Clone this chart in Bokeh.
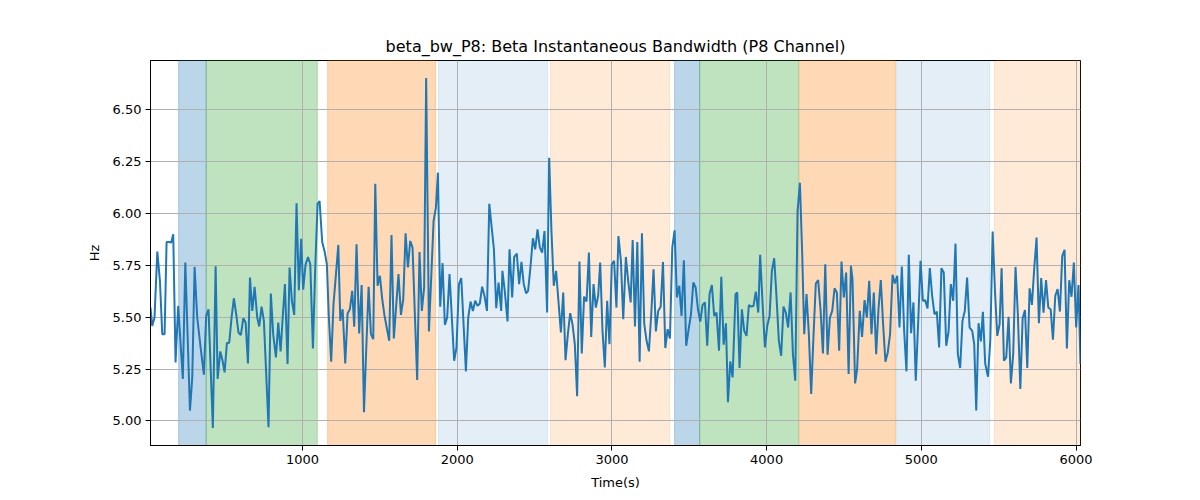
import numpy as np
from bokeh.plotting import figure
from bokeh.models import Range1d, BoxAnnotation, FixedTicker, PrintfTickFormatter
from bokeh.embed import file_html
from bokeh.resources import INLINE

time_s = [17, 28, 43, 61, 78, 93, 108, 121, 136, 151, 164, 179, 196, 226, 242, 272, 287, 302, 319, 341,
          362, 377, 392, 420, 438, 451, 468, 483, 496, 511, 526, 541, 556, 571, 586, 601, 617, 632, 647, 660,
          675, 690, 707, 720, 735, 750, 780, 795, 810, 828, 843, 858, 873, 886, 903, 916, 931, 946, 961, 976,
          991, 1004, 1019, 1035, 1050, 1067, 1082, 1097, 1110, 1127, 1144, 1157, 1170, 1185, 1200, 1216, 1231, 1244, 1259, 1276,
          1291, 1306, 1321, 1334, 1349, 1366, 1382, 1397, 1412, 1427, 1442, 1457, 1470, 1485, 1500, 1515, 1530, 1560, 1575, 1590,
          1620, 1636, 1651, 1666, 1681, 1696, 1711, 1726, 1741, 1756, 1771, 1786, 1799, 1817, 1847, 1862, 1875, 1890, 1905, 1920,
          1935, 1950, 1980, 1995, 2011, 2026, 2056, 2071, 2086, 2101, 2116, 2131, 2146, 2161, 2176, 2192, 2207, 2237, 2252, 2267,
          2284, 2292, 2307, 2325, 2338, 2355, 2368, 2385, 2400, 2415, 2430, 2445, 2458, 2473, 2489, 2504, 2519, 2534, 2549, 2564,
          2581, 2594, 2609, 2624, 2639, 2654, 2670, 2685, 2700, 2715, 2730, 2745, 2760, 2775, 2790, 2805, 2820, 2836, 2851, 2866,
          2881, 2896, 2911, 2924, 2939, 2954, 2969, 2984, 2999, 3014, 3029, 3042, 3058, 3073, 3090, 3105, 3121, 3134, 3149, 3164,
          3179, 3194, 3209, 3224, 3239, 3254, 3269, 3284, 3299, 3315, 3330, 3345, 3360, 3375, 3390, 3405, 3420, 3435, 3450, 3465,
          3480, 3496, 3511, 3526, 3541, 3556, 3571, 3586, 3601, 3616, 3631, 3646, 3661, 3676, 3692, 3707, 3722, 3737, 3750, 3765,
          3780, 3799, 3810, 3825, 3840, 3855, 3870, 3885, 3900, 3915, 3930, 3946, 3958, 3974, 3989, 4004, 4019, 4034, 4049, 4064,
          4079, 4094, 4109, 4124, 4139, 4155, 4170, 4185, 4200, 4215, 4230, 4243, 4258, 4273, 4288, 4303, 4318, 4333, 4349, 4364,
          4379, 4394, 4409, 4424, 4439, 4454, 4469, 4484, 4499, 4514, 4530, 4545, 4555, 4572, 4585, 4602, 4617, 4633, 4648, 4663,
          4678, 4693, 4708, 4723, 4738, 4753, 4768, 4783, 4798, 4814, 4829, 4844, 4859, 4874, 4889, 4904, 4919, 4934, 4949, 4964,
          4980, 4995, 5010, 5025, 5040, 5055, 5070, 5085, 5100, 5115, 5130, 5145, 5161, 5176, 5191, 5206, 5221, 5236, 5251, 5266,
          5281, 5296, 5312, 5329, 5342, 5355, 5370, 5385, 5398, 5413, 5431, 5446, 5461, 5476, 5491, 5506, 5519, 5534, 5549, 5564,
          5579, 5594, 5609, 5624, 5640, 5655, 5670, 5685, 5700, 5715, 5730, 5745, 5760, 5775, 5790, 5806, 5821, 5836, 5851, 5866,
          5881, 5896, 5911, 5926, 5941, 5956, 5971, 5986, 6001, 6016, 6029]

beta_bw_hz = [5.546, 5.458, 5.498, 5.816, 5.675, 5.418, 5.418, 5.862, 5.862, 5.859, 5.899, 5.282, 5.554, 5.202, 5.763, 5.050, 5.210, 5.742, 5.498, 5.354,
              5.223, 5.506, 5.538, 4.966, 5.745, 5.202, 5.335, 5.290, 5.234, 5.375, 5.377, 5.498, 5.591, 5.514, 5.426, 5.413, 5.495, 5.474, 5.277, 5.691,
              5.530, 5.646, 5.498, 5.455, 5.551, 5.482, 4.970, 5.614, 5.418, 5.306, 5.474, 5.335, 5.514, 5.659, 5.274, 5.739, 5.579, 5.511, 6.048, 5.630,
              5.878, 5.633, 5.752, 5.790, 5.755, 5.349, 5.739, 6.046, 6.059, 5.862, 5.811, 5.755, 5.498, 5.285, 5.562, 5.707, 5.848, 5.482, 5.538, 5.277,
              5.518, 5.538, 5.627, 5.454, 5.851, 5.421, 5.655, 5.042, 5.354, 5.646, 5.418, 5.394, 6.143, 5.651, 5.699, 5.587, 5.506, 5.386, 5.896, 5.397,
              5.707, 5.511, 5.587, 5.904, 5.739, 5.867, 5.835, 5.514, 5.197, 5.814, 5.530, 5.643, 6.652, 5.431, 5.963, 6.027, 6.196, 5.550, 5.760, 5.463,
              5.498, 5.707, 5.290, 5.354, 5.659, 5.688, 5.239, 5.498, 5.575, 5.530, 5.579, 5.554, 5.566, 5.647, 5.603, 5.530, 6.046, 5.827, 5.543, 5.667,
              5.530, 5.723, 5.627, 5.479, 5.827, 5.595, 5.790, 5.806, 5.659, 5.766, 5.659, 5.615, 5.627, 5.739, 5.880, 5.827, 5.923, 5.835, 5.811, 5.915,
              5.522, 6.268, 5.915, 5.651, 5.723, 5.579, 5.426, 5.619, 5.293, 5.418, 5.519, 5.466, 5.370, 5.119, 5.768, 5.325, 5.599, 5.575, 5.811, 5.405,
              5.659, 5.546, 5.603, 5.763, 5.434, 5.258, 5.579, 5.370, 5.755, 5.771, 5.546, 5.891, 5.771, 5.490, 5.790, 5.675, 5.571, 5.872, 5.455, 5.862,
              5.285, 5.904, 5.466, 5.386, 5.335, 5.514, 5.731, 5.431, 5.530, 5.550, 5.766, 5.351, 5.442, 5.397, 5.835, 5.918, 5.595, 5.651, 5.506, 5.774,
              5.362, 5.442, 5.514, 5.667, 5.643, 5.538, 5.479, 5.559, 5.571, 5.362, 5.611, 5.655, 5.506, 5.522, 5.338, 5.694, 5.367, 5.470, 5.090, 5.287,
              5.210, 5.611, 5.619, 5.255, 5.538, 5.434, 5.410, 5.558, 5.551, 5.554, 5.623, 5.522, 5.800, 5.562, 5.354, 5.458, 5.506, 5.723, 5.784, 5.595,
              5.386, 5.314, 5.551, 5.522, 5.450, 5.619, 5.322, 5.194, 6.011, 6.147, 5.803, 5.418, 5.611, 5.418, 5.130, 5.410, 5.662, 5.678, 5.530, 5.325,
              5.755, 5.319, 5.498, 5.530, 5.639, 5.619, 5.338, 5.768, 5.595, 5.715, 5.226, 5.747, 5.683, 5.181, 5.250, 5.530, 5.405, 5.582, 5.498, 5.675,
              5.418, 5.619, 5.322, 5.538, 5.679, 5.466, 5.285, 5.330, 5.418, 5.704, 5.662, 5.699, 5.450, 5.744, 5.434, 5.239, 5.800, 5.423, 5.571, 5.194,
              5.482, 5.771, 5.579, 5.582, 5.542, 5.736, 5.603, 5.514, 5.527, 5.354, 5.736, 5.715, 5.362, 5.431, 5.659, 5.579, 5.854, 5.322, 5.255, 5.482,
              5.530, 5.691, 5.450, 5.434, 5.370, 5.050, 5.471, 5.383, 5.526, 5.277, 5.213, 5.389, 5.912, 5.627, 5.410, 5.466, 5.736, 5.290, 5.306, 5.502,
              5.181, 5.322, 5.742, 5.514, 5.154, 5.495, 5.534, 5.255, 5.639, 5.559, 5.736, 5.883, 5.471, 5.688, 5.522, 5.679, 5.546, 5.538, 5.391, 5.603,
              5.635, 5.527, 5.795, 5.824, 5.349, 5.678, 5.598, 5.763, 5.450, 5.655, 5.274]

span_start = [199, 377, 1162, 1879, 2603, 3405, 3567, 4212, 4840, 5473]
span_end = [377, 1095, 1860, 2584, 3373, 3567, 4206, 4833, 5441, 6029]
span_state = ["s1", "s2", "s3", "s4", "s5", "s1", "s2", "s3", "s4", "s5"]

x_ticks = [1000, 2000, 3000, 4000, 5000, 6000]
y_ticks = [5.0, 5.25, 5.5, 5.75, 6.0, 6.25, 6.5]

state_fill = {"s1": ("#1f77b4", 0.3), "s2": ("#2ca02c", 0.3), "s3": ("#ff7f0e", 0.3),
              "s4": ("#1f77b4", 0.12), "s5": ("#ff7f0e", 0.16)}

ymin, ymax = min(beta_bw_hz), max(beta_bw_hz)
pad = 0.05 * (ymax - ymin)

FONT = "DejaVu Sans"
p = figure(width=1200, height=500, output_backend="svg", toolbar_location=None,
           x_range=Range1d(time_s[0], time_s[-1]), y_range=Range1d(ymin - pad, ymax + pad),
           min_border_left=150, min_border_right=120, min_border_top=60, min_border_bottom=55,
           title="beta_bw_P8: Beta Instantaneous Bandwidth (P8 Channel)")
p.background_fill_color = "white"
p.border_fill_color = "white"
p.outline_line_color = "black"
p.outline_line_width = 1

p.title.align = "center"
p.title.text_font = FONT
p.title.text_font_size = "16px"
p.title.text_font_style = "normal"
p.title.text_color = "black"

for s, e, st in zip(span_start, span_end, span_state):
    c, a = state_fill[st]
    p.add_layout(BoxAnnotation(left=s, right=e, fill_color=c, fill_alpha=a,
                               line_color=c, line_alpha=a, line_width=1, level="image"))

p.line(time_s, beta_bw_hz, line_color="#1f77b4", line_width=2)

p.xaxis.ticker = FixedTicker(ticks=x_ticks)
p.yaxis.ticker = FixedTicker(ticks=y_ticks)
p.xgrid.ticker = FixedTicker(ticks=x_ticks)
p.ygrid.ticker = FixedTicker(ticks=y_ticks)
p.yaxis.formatter = PrintfTickFormatter(format="%.2f")
p.xaxis.formatter = PrintfTickFormatter(format="%d")
p.grid.grid_line_color = "#b0b0b0"
p.grid.grid_line_width = 1

p.xaxis.axis_label = "Time(s)"
p.yaxis.axis_label = "Hz"
for ax in (p.xaxis, p.yaxis):
    ax.axis_label_text_font = FONT
    ax.axis_label_text_font_size = "13px"
    ax.axis_label_text_font_style = "normal"
    ax.axis_label_text_color = "black"
    ax.major_label_text_font = FONT
    ax.major_label_text_font_size = "13px"
    ax.major_label_text_color = "black"
    ax.minor_tick_line_color = None
    ax.major_tick_line_color = "black"
    ax.major_tick_out = 5
    ax.major_tick_in = 0
    ax.major_label_standoff = 4
    ax.axis_line_color = "black"
p.xaxis.axis_label_standoff = 8
p.yaxis.axis_label_standoff = 8

open("out.html", "w").write(file_html(p, INLINE))
